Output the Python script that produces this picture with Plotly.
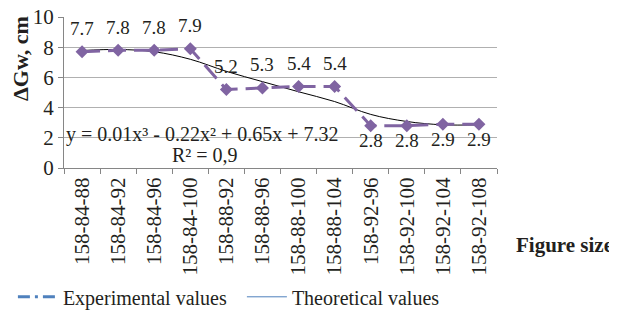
import plotly.graph_objects as go

categories = ["158-84-88", "158-84-92", "158-84-96", "158-84-100", "158-88-92", "158-88-96",
              "158-88-100", "158-88-104", "158-92-96", "158-92-100", "158-92-104", "158-92-108"]
experimental = [7.7, 7.8, 7.8, 7.9, 5.2, 5.3, 5.4, 5.4, 2.8, 2.8, 2.9, 2.9]
theoretical = [7.78, 7.85, 7.7, 7.2, 6.4, 5.72, 5.05, 4.4, 3.55, 3.08, 2.86, 2.86]
label_above = [True] * 8 + [False] * 4

FONT = "Liberation Serif"
PURPLE = "#8064A2"
BLUE = "#4F81BD"
TXT = "#231F20"

fig = go.Figure()
fig.add_trace(go.Scatter(x=categories, y=theoretical, mode="lines",
                         line=dict(color="black", width=1, shape="spline", smoothing=1.0),
                         showlegend=False, hoverinfo="skip"))
fig.add_trace(go.Scatter(x=categories, y=experimental, mode="lines+markers",
                         line=dict(color=PURPLE, width=3, dash="18px,8px"),
                         marker=dict(symbol="diamond", size=10, color=PURPLE),
                         showlegend=False))
# legend-only entries
fig.add_trace(go.Scatter(x=[None], y=[None], mode="lines", name="Experimental values",
                         line=dict(color=BLUE, width=3, dash="12px,5px,3px,5px")))
fig.add_trace(go.Scatter(x=[None], y=[None], mode="lines", name="Theoretical values",
                         line=dict(color=BLUE, width=1)))

for c, v, up in zip(categories, experimental, label_above):
    fig.add_annotation(x=c, y=v, text=f"{v:.1f}", showarrow=False, yshift=23 if up else -15,
                       font=dict(family=FONT, size=19, color=TXT))

fig.add_annotation(xref="paper", yref="paper", x=0.0, y=0.225, xanchor="left", yanchor="middle",
                   text="y = 0.01x³ - 0.22x² + 0.65x + 7.32", showarrow=False,
                   font=dict(family=FONT, size=20, color=TXT))
fig.add_annotation(xref="paper", yref="paper", x=0.326, y=0.088, xanchor="center", yanchor="middle",
                   text="R² = 0,9", showarrow=False, font=dict(family=FONT, size=20, color=TXT))
fig.add_annotation(xref="paper", yref="paper", x=-0.100, y=0.727, xanchor="center", yanchor="middle",
                   text="<b>ΔGw, cm</b>", textangle=-90, showarrow=False,
                   font=dict(family=FONT, size=22, color=TXT))
fig.add_annotation(xref="paper", yref="paper", x=1.040, y=-0.509, xanchor="left", yanchor="middle",
                   text="<b>Figure size</b>", showarrow=False,
                   font=dict(family=FONT, size=21, color=TXT))

# The page body adds an 8px margin, so the figure is 8px smaller than the window.
fig.update_layout(
    width=609, height=305,
    margin=dict(l=56, r=120, t=9, b=145, autoexpand=False),
    paper_bgcolor="white", plot_bgcolor="white",
    font=dict(family=FONT, size=16, color=TXT),
    legend=dict(orientation="h", x=-0.118, y=-0.853, xanchor="left", yanchor="middle",
                font=dict(family=FONT, size=20, color=TXT), itemwidth=40, tracegroupgap=0,
                entrywidth=174, entrywidthmode="pixels"),
    xaxis=dict(type="category", range=[-0.5, 11.5], tickangle=-90, showgrid=False,
               showline=True, linecolor="#868686", linewidth=1,
               ticks="outside", tickson="boundaries", ticklen=5, tickcolor="#868686",
               tickfont=dict(family=FONT, size=21, color=TXT)),
    yaxis=dict(range=[0, 10], dtick=2, showgrid=True, gridcolor="#B0B0B0", gridwidth=1,
               showline=True, linecolor="#868686", linewidth=1, ticks="outside", ticklen=5,
               tickcolor="#868686", zeroline=False, ticklabeloverflow="allow",
               tickfont=dict(family=FONT, size=21, color=TXT)),
)

fig.write_html("out.html")
